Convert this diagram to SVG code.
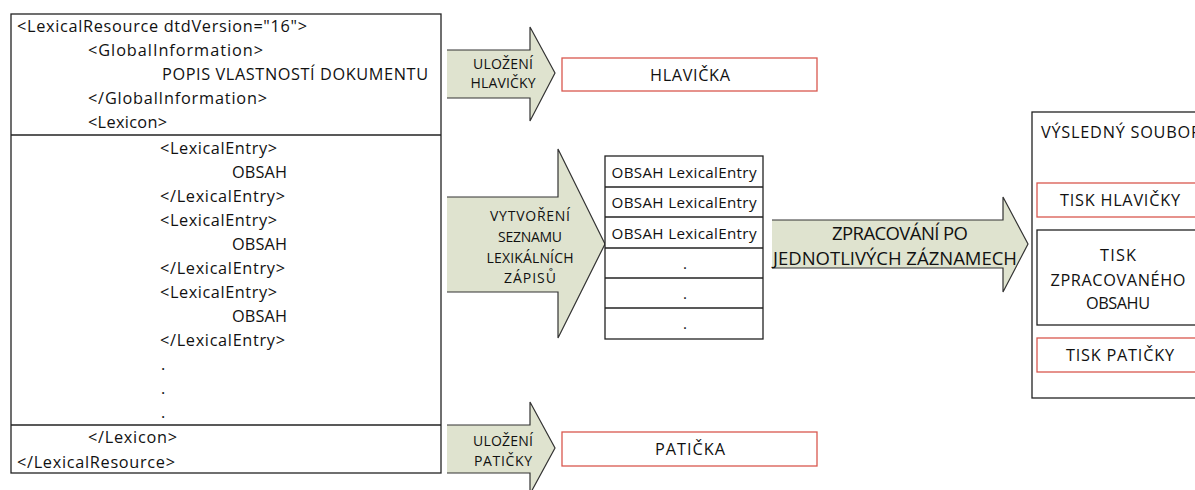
<svg xmlns="http://www.w3.org/2000/svg" width="1195" height="490" viewBox="0 0 1195 490">
<style>
text{font-family:"Open Sans","Noto Sans","Liberation Sans",sans-serif;fill:#111;}
.t{font-size:16.3px;}
.s{font-size:14px;}
.m{font-size:15.2px;}
.big{font-size:18.5px;}
.c{text-anchor:middle;}
.box{fill:#fff;stroke:#222;stroke-width:1.3;}
.red{fill:#fff;stroke:#d9584f;stroke-width:1.3;}
.af{fill:#dfe3cf;stroke:none;}
.as{fill:none;stroke:#333;stroke-width:1.2;stroke-linejoin:miter;}
</style>
<rect width="1195" height="490" fill="#fff"/>
<g id="xml-source">
<rect class="box" x="11" y="14" width="430" height="459"/>
<line x1="11" y1="135" x2="441" y2="135" stroke="#222" stroke-width="1.3"/>
<line x1="11" y1="425" x2="441" y2="425" stroke="#222" stroke-width="1.3"/>
<g class="t" dominant-baseline="central">
<text x="17" y="26" textLength="290">&lt;LexicalResource dtdVersion="16"&gt;</text>
<text x="88" y="50" textLength="175">&lt;GlobalInformation&gt;</text>
<text x="162" y="74" textLength="266">POPIS VLASTNOSTÍ DOKUMENTU</text>
<text x="88" y="98" textLength="179">&lt;/GlobalInformation&gt;</text>
<text x="88" y="122" textLength="79">&lt;Lexicon&gt;</text>
<text x="160" y="148" textLength="117">&lt;LexicalEntry&gt;</text>
<text x="232" y="172" textLength="55">OBSAH</text>
<text x="160" y="196" textLength="125">&lt;/LexicalEntry&gt;</text>
<text x="160" y="220" textLength="117">&lt;LexicalEntry&gt;</text>
<text x="232" y="244" textLength="55">OBSAH</text>
<text x="160" y="268" textLength="125">&lt;/LexicalEntry&gt;</text>
<text x="160" y="292" textLength="117">&lt;LexicalEntry&gt;</text>
<text x="232" y="316" textLength="55">OBSAH</text>
<text x="160" y="340" textLength="125">&lt;/LexicalEntry&gt;</text>
<text x="161" y="364">.</text>
<text x="161" y="388">.</text>
<text x="161" y="412">.</text>
<text x="88" y="437" textLength="89">&lt;/Lexicon&gt;</text>
<text x="17" y="462" textLength="158">&lt;/LexicalResource&gt;</text>
</g>
</g>
<g id="connectors">
<g id="arrow-header">
<polygon class="af" points="447,50 530,50 530,27 555,73 530,121 530,98 447,98"/>
<polyline class="as" points="447,50 530,50 530,27 555,73 530,121 530,98 447,98"/>
<text class="s c" x="503" y="63" dominant-baseline="central" textLength="60">ULOŽENÍ</text>
<text class="s c" x="503" y="82" dominant-baseline="central" textLength="65">HLAVIČKY</text>
</g>
<g id="arrow-list">
<polygon class="af" points="447,197 558,197 558,149 605,244 558,338 558,292 447,292"/>
<polyline class="as" points="447,197 558,197 558,149 605,244 558,338 558,292 447,292"/>
<g class="s c" dominant-baseline="central">
<text x="530" y="215" textLength="80">VYTVOŘENÍ</text>
<text x="530" y="236" textLength="64">SEZNAMU</text>
<text x="530" y="257" textLength="87">LEXIKÁLNÍCH</text>
<text x="530" y="277" textLength="52">ZÁPISŮ</text>
</g>
</g>
<g id="arrow-footer">
<polygon class="af" points="447,425 530,425 530,402 555,448 530,494 530,473 447,473"/>
<polyline class="as" points="447,425 530,425 530,402 555,448 530,494 530,473 447,473"/>
<text class="s c" x="503" y="440" dominant-baseline="central" textLength="60">ULOŽENÍ</text>
<text class="s c" x="503" y="460" dominant-baseline="central" textLength="58">PATIČKY</text>
</g>
<g id="arrow-process">
<polygon class="af" points="772,220 1003,220 1003,197 1028,244 1003,292 1003,268 772,268"/>
<polyline class="as" points="772,220 1003,220 1003,197 1028,244 1003,292 1003,268 772,268"/>
<text class="big c" x="900" y="232" dominant-baseline="central" textLength="136">ZPRACOVÁNÍ PO</text>
<text class="big c" x="895" y="257" dominant-baseline="central" textLength="244">JEDNOTLIVÝCH ZÁZNAMECH</text>
</g>
</g>
<g id="hlavicka">
<rect class="red" x="562" y="58" width="255" height="33"/>
<text class="t c" x="690" y="75" dominant-baseline="central" textLength="80">HLAVIČKA</text>
</g>
<g id="paticka">
<rect class="red" x="562" y="432" width="255" height="34"/>
<text class="t c" x="690" y="449" dominant-baseline="central" textLength="70">PATIČKA</text>
</g>
<g id="entry-list">
<rect class="box" x="605" y="156" width="158" height="183"/>
<line x1="605" y1="187" x2="763" y2="187" stroke="#222" stroke-width="1.3"/>
<line x1="605" y1="217" x2="763" y2="217" stroke="#222" stroke-width="1.3"/>
<line x1="605" y1="248" x2="763" y2="248" stroke="#222" stroke-width="1.3"/>
<line x1="605" y1="278" x2="763" y2="278" stroke="#222" stroke-width="1.3"/>
<line x1="605" y1="308" x2="763" y2="308" stroke="#222" stroke-width="1.3"/>
<g class="m c" dominant-baseline="central">
<text x="684" y="172" textLength="145">OBSAH LexicalEntry</text>
<text x="684" y="202" textLength="145">OBSAH LexicalEntry</text>
<text x="684" y="233" textLength="145">OBSAH LexicalEntry</text>
<text x="685" y="263">.</text>
<text x="685" y="293">.</text>
<text x="685" y="323">.</text>
</g>
</g>
<g id="result-file">
<rect class="box" x="1032" y="112" width="180" height="286"/>
<text class="t" x="1041" y="132" dominant-baseline="central" textLength="160">VÝSLEDNÝ SOUBOR</text>
</g>
<g id="tisk-hlavicky">
<rect class="red" x="1037" y="183" width="165" height="34"/>
<text class="t c" x="1120" y="200" dominant-baseline="central" textLength="120">TISK HLAVIČKY</text>
</g>
<g id="tisk-obsahu">
<rect class="box" x="1037" y="230" width="165" height="95"/>
<g class="t c" dominant-baseline="central">
<text x="1118" y="255" textLength="36">TISK</text>
<text x="1118" y="280" textLength="135">ZPRACOVANÉHO</text>
<text x="1118" y="303" textLength="64">OBSAHU</text>
</g>
</g>
<g id="tisk-paticky">
<rect class="red" x="1037" y="338" width="165" height="34"/>
<text class="t c" x="1120" y="355" dominant-baseline="central" textLength="108">TISK PATIČKY</text>
</g>
</svg>
